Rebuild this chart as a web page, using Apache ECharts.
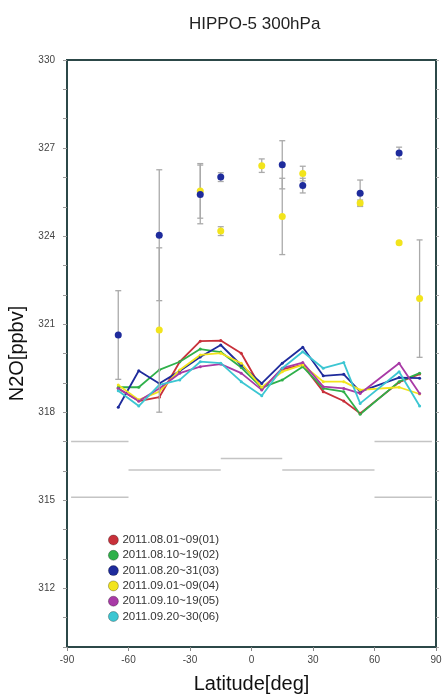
<!DOCTYPE html>
<html>
<head>
<meta charset="utf-8">
<script src="https://cdn.jsdelivr.net/npm/echarts@6/dist/echarts.min.js"></script>
<style>html,body{margin:0;padding:0;background:#fff}#c{width:443px;height:696px}</style>
</head>
<body>
<div id="c"></div>
<script>
// Latitudes of the 10-day mean lines
var lats = [-65, -55, -45, -35, -25, -15, -5, 5, 15, 25, 35, 45, 53, 72, 82];
var seriesNames = ['2011.08.01~09(01)', '2011.08.10~19(02)', '2011.08.20~31(03)', '2011.09.01~09(04)', '2011.09.10~19(05)', '2011.09.20~30(06)'];
var s01 = [318.81, 318.38, 318.51, 319.72, 320.42, 320.44, 320.01, 318.78, 319.46, 319.61, 318.70, 318.38, 317.96, 319.02, 319.30];
var s02 = [318.85, 318.85, 319.44, 319.72, 320.15, 320.05, 319.52, 318.84, 319.10, 319.55, 318.81, 318.70, 317.93, 319.04, 319.33];
var s03 = [318.17, 319.41, 318.98, 319.40, 319.88, 320.29, 319.60, 318.98, 319.67, 320.21, 319.24, 319.29, 318.70, 319.18, 319.16];
var s04 = [318.93, 318.42, 318.70, 319.44, 319.95, 320.01, 319.67, 318.85, 319.38, 319.61, 319.04, 319.04, 318.76, 318.85, 318.62];
var s05 = [318.81, 318.38, 318.81, 319.33, 319.55, 319.64, 319.33, 318.76, 319.50, 319.69, 318.87, 318.81, 318.64, 319.67, 318.64];
var s06 = [318.73, 318.21, 318.93, 319.10, 319.72, 319.67, 319.04, 318.56, 319.50, 320.06, 319.50, 319.69, 318.30, 319.38, 318.21];

// Points with error bars (series 03 blue and 04 yellow)
var blueLat = [-65, -45, -25, -15, 15, 25, 53, 72];
var blueVal = [320.63, 324.03, 325.42, 326.01, 326.43, 325.72, 325.46, 326.83];
var blueErr = [1.51, 2.23, 1.00, 0.15, 0.82, 0.25, 0.45, 0.20];
var yellowLat = [-45, -25, -15, 5, 15, 25, 53, 72, 82];
var yellowVal = [320.80, 325.54, 324.17, 326.40, 324.67, 326.13, 325.13, 323.77, 321.87];
var yellowErr = [2.80, 0.93, 0.15, 0.23, 1.30, 0.25, 0.10, 0.05, 2.00];

// Gray background reference segments: [lat start, lat end, value]
var segStart = [-88, -88, -60, -15, 15, 60, 60];
var segEnd   = [-60, -60, -15, 15, 60, 88, 88];
var segVal   = [317.0, 315.1, 316.03, 316.42, 316.03, 317.0, 315.1];

var yTickLabels = [312, 315, 318, 321, 324, 327, 330];
var xTickLabels = [-90, -60, -30, 0, 30, 60, 90];

var colors = ['#c8303a', '#2fb04a', '#1e2b9c', '#f2e41c', '#a83aa6', '#3cc6d2'];
var lineVals = [s01, s02, s03, s04, s05, s06];

var chart = echarts.init(document.getElementById('c'), null, {renderer: 'canvas'});
var FONT = 'Liberation Sans, Arial, sans-serif';
var axisColor = '#2c4848';

function pairs(xs, ys) { return xs.map(function (x, i) { return [x, ys[i]]; }); }
function triples(xs, ys, es) { return xs.map(function (x, i) { return [x, ys[i], es[i]]; }); }

function errRender(params, api) {
  var x = api.value(0), v = api.value(1), e = api.value(2);
  var top = api.coord([x, v + e]), bot = api.coord([x, v - e]);
  var w = 3;
  var st = {stroke: '#aaaaaa', lineWidth: 1.3};
  return {type: 'group', children: [
    {type: 'line', shape: {x1: top[0], y1: top[1], x2: bot[0], y2: bot[1]}, style: st},
    {type: 'line', shape: {x1: top[0] - w, y1: top[1], x2: top[0] + w, y2: top[1]}, style: st},
    {type: 'line', shape: {x1: bot[0] - w, y1: bot[1], x2: bot[0] + w, y2: bot[1]}, style: st}
  ]};
}

function segRender(params, api) {
  var a = api.coord([api.value(0), api.value(2)]);
  var b = api.coord([api.value(1), api.value(2)]);
  return {type: 'line', shape: {x1: a[0], y1: a[1], x2: b[0], y2: b[1]}, style: {stroke: '#c4c4c4', lineWidth: 1.5}};
}

var series = [];
series.push({type: 'custom', name: 'ref', renderItem: segRender, data: segStart.map(function (s, i) { return [s, segEnd[i], segVal[i]]; }), encode: {x: [0, 1], y: 2}, silent: true, z: 1});
lineVals.forEach(function (vals, i) {
  series.push({
    type: 'line', name: seriesNames[i], data: pairs(lats, vals),
    symbol: 'circle', symbolSize: 3, showSymbol: true,
    lineStyle: {color: colors[i], width: 1.8}, itemStyle: {color: colors[i]},
    z: 3, animation: false
  });
});
series.push({type: 'custom', name: 'errB', renderItem: errRender, data: triples(blueLat, blueVal, blueErr), encode: {x: 0, y: 1}, z: 4});
series.push({type: 'custom', name: 'errY', renderItem: errRender, data: triples(yellowLat, yellowVal, yellowErr), encode: {x: 0, y: 1}, z: 4});
series.push({type: 'scatter', name: 'ptY', data: pairs(yellowLat, yellowVal), symbolSize: 7, itemStyle: {color: colors[3], opacity: 1}, z: 5});
series.push({type: 'scatter', name: 'ptB', data: pairs(blueLat, blueVal), symbolSize: 7, itemStyle: {color: colors[2], opacity: 1}, z: 6});

var yLabelSet = {};
yTickLabels.forEach(function (v) { yLabelSet[v] = true; });

chart.setOption({
  animation: false,
  backgroundColor: '#fff',
  title: {
    text: 'HIPPO-5 300hPa', left: 184, top: 11,
    textStyle: {fontFamily: FONT, fontSize: 17, fontWeight: 'normal', color: '#222'}
  },
  legend: {
    data: seriesNames.map(function (n, i) { return {name: n, icon: 'circle', itemStyle: {color: colors[i], borderColor: 'rgba(0,0,0,0.35)', borderWidth: 0.8}}; }),
    orient: 'vertical', left: 103, top: 529,
    itemWidth: 10, itemHeight: 10, itemGap: 3.3, itemStyle: {borderWidth: 0},
    textStyle: {fontFamily: FONT, fontSize: 11.5, color: '#333', lineHeight: 10, padding: [0, 0, 0, -1]},
    selectedMode: false
  },
  grid: {left: 67, right: 7, top: 60, bottom: 49, containLabel: false, outerBoundsMode: 'none',
    show: true, borderColor: axisColor, borderWidth: 2, backgroundColor: 'transparent'},
  xAxis: {
    type: 'value', min: -90, max: 90, interval: 30,
    name: 'Latitude[deg]', nameLocation: 'middle', nameGap: 27,
    nameTextStyle: {fontFamily: FONT, fontSize: 20, color: '#111'},
    axisLine: {show: true, onZero: false, lineStyle: {color: axisColor, width: 2}},
    axisTick: {show: true, length: 4, lineStyle: {color: '#888'}},
    minorTick: {show: false},
    axisLabel: {fontFamily: FONT, fontSize: 10, color: '#444', margin: 8,
      formatter: function (v) { return xTickLabels.indexOf(v) >= 0 ? String(v) : ''; }},
    splitLine: {show: false}
  },
  yAxis: [{
    type: 'value', min: 310, max: 330, interval: 1, position: 'left',
    name: 'N2O[ppbv]', nameLocation: 'middle', nameGap: 37,
    nameTextStyle: {fontFamily: FONT, fontSize: 20, color: '#111'},
    axisLine: {show: true, onZero: false, lineStyle: {color: axisColor, width: 2}},
    axisTick: {show: true, length: 4, lineStyle: {color: '#999'}},
    axisLabel: {fontFamily: FONT, fontSize: 10, color: '#444', margin: 12,
      formatter: function (v) { return yLabelSet[v] ? String(v) : ''; }},
    splitLine: {show: false}
  }, {
    type: 'value', min: 310, max: 330, interval: 1, position: 'right',
    axisLine: {show: true, onZero: false, lineStyle: {color: axisColor, width: 2}},
    axisTick: {show: true, length: 3, lineStyle: {color: '#aaa'}},
    axisLabel: {show: false}, splitLine: {show: false}
  }],
  series: series
});
</script>
</body>
</html>
